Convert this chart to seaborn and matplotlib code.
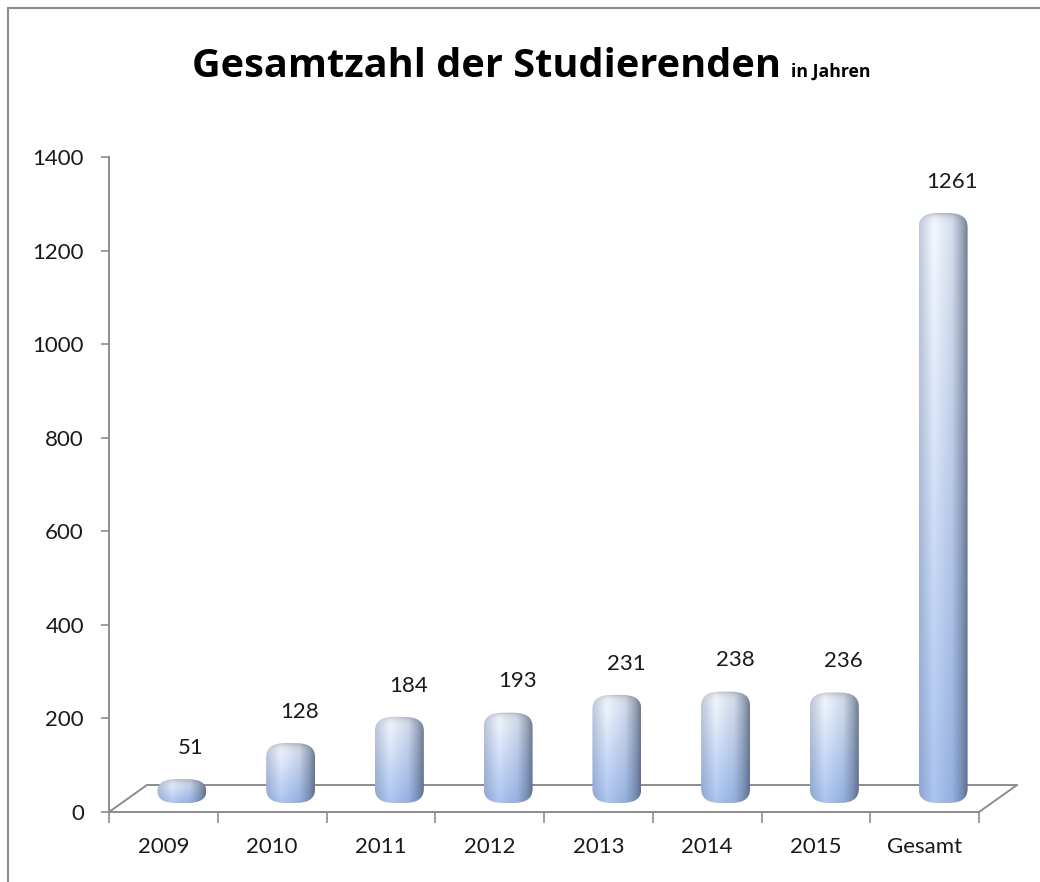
import numpy as np
import pandas as pd
import matplotlib
matplotlib.use("Agg")
import matplotlib.pyplot as plt
import matplotlib.transforms as mtransforms
from matplotlib.patches import FancyBboxPatch
from matplotlib.lines import Line2D
import seaborn as sns

kategorien = ["2009", "2010", "2011", "2012", "2013", "2014", "2015", "Gesamt"]
studierende = [51, 128, 184, 193, 231, 238, 236, 1261]
y_ticks = [0, 200, 400, 600, 800, 1000, 1200, 1400]
titel = "Gesamtzahl der Studierenden"
untertitel = "in Jahren"

sns.set_theme(style="white")
plt.rcParams["font.family"] = ["Lato", "DejaVu Sans"]

GRAU = "#8c8c8c"
W, H = 1040, 882

df = pd.DataFrame({"jahr": kategorien, "anzahl": studierende})

fig = plt.figure(figsize=(W / 100, H / 100), dpi=100)
ax = fig.add_axes([109 / W, 70 / H, 870 / W, 655 / H])

sns.barplot(data=df, x="jahr", y="anzahl", ax=ax, width=0.45, color="#a8c0e8")

# 3D-Versatz der Saeulen (nach rechts / oben)
shift = mtransforms.ScaledTranslation(18.5 / 100, 9 / 100, fig.dpi_scale_trans)
bar_trans = ax.transData + shift


def verlauf(hoehe_px, nx=120):
    ny = max(int(hoehe_px), 10)
    t = np.linspace(0, 1, nx)
    stops = [0.0, 0.30, 0.68, 0.88, 1.0]
    oben = np.array([[0.76, 0.79, 0.86], [0.97, 0.98, 1.00], [0.84, 0.87, 0.92],
                     [0.62, 0.66, 0.73], [0.45, 0.49, 0.56]])
    unten = np.array([[0.55, 0.65, 0.82], [0.67, 0.77, 0.94], [0.58, 0.69, 0.88],
                      [0.46, 0.55, 0.71], [0.36, 0.43, 0.57]])
    top = np.stack([np.interp(t, stops, oben[:, k]) for k in range(3)], axis=-1)
    bot = np.stack([np.interp(t, stops, unten[:, k]) for k in range(3)], axis=-1)
    s = np.linspace(0, 1, ny)[:, None, None]
    img = top[None, :, :] * (1 - s) + bot[None, :, :] * s
    # dunklerer Rand an der gewoelbten Oberseite
    d = np.arange(ny)[:, None, None]
    rand = 1 - 0.22 * np.exp(-d / 3.0)
    return np.clip(img * rand, 0, 1)


px_per_x = 870 / 8
px_per_y = 655 / 1400

for p in list(ax.patches):
    x0, w, h = p.get_x(), p.get_width(), p.get_height()
    p.set_visible(False)
    rx = 19 / px_per_x
    ry = min(14 / px_per_y, h / 2)
    clip = FancyBboxPatch((x0, 0), w, h,
                          boxstyle=f"round,pad=0,rounding_size={rx}",
                          mutation_aspect=ry / rx, transform=bar_trans,
                          facecolor="none", edgecolor="none")
    ax.add_patch(clip)
    im = ax.imshow(verlauf(h * px_per_y), extent=(x0, x0 + w, 0, h), origin="upper",
                   aspect="auto", transform=bar_trans, interpolation="bilinear", zorder=3)
    im.set_clip_path(clip)
    ax.annotate(f"{int(round(h))}", xy=(x0 + w / 2, h), xycoords="data",
                xytext=(20, 29), textcoords="offset points",
                ha="center", va="center", fontsize=16, color="#1a1a1a",
                annotation_clip=False)

ax.set_xlim(-0.5, len(kategorien) - 0.5)
ax.set_ylim(0, 1400)
ax.set_yticks(y_ticks)
ax.set_xlabel("")
ax.set_ylabel("")

# Boden (3D-Flaeche)
bx, by = 38 / 870, 27 / 655
for xs, ys in [([0, bx], [0, by]), ([bx, 1 + bx], [by, by]), ([1, 1 + bx], [0, by])]:
    ax.add_line(Line2D(xs, ys, transform=ax.transAxes, color=GRAU, lw=1.4,
                       clip_on=False, zorder=1))

sns.despine(ax=ax)
for s in ["left", "bottom"]:
    ax.spines[s].set_color(GRAU)
    ax.spines[s].set_linewidth(1.4)

ax.set_xticks(np.arange(-0.5, len(kategorien)), minor=True)
ax.tick_params(axis="x", which="major", length=0, pad=18, labelsize=16, labelcolor="#1a1a1a")
ax.tick_params(axis="x", which="minor", length=8, width=1.2, color=GRAU, direction="out", bottom=True)
ax.tick_params(axis="y", length=6, width=1.2, color=GRAU, direction="out", left=True,
               pad=12, labelsize=16, labelcolor="#1a1a1a")

# Rahmen des Diagramms
fig.add_artist(Line2D([8 / W, 8 / W], [0, 1 - 8 / H], transform=fig.transFigure, color=GRAU, lw=1.5))
fig.add_artist(Line2D([8 / W, 1], [1 - 8 / H, 1 - 8 / H], transform=fig.transFigure, color=GRAU, lw=1.5))

# Titel: Schriftgroesse an die Breite im Original anpassen
t = fig.text(192 / W, 1 - 77 / H, titel, fontsize=28, fontweight="bold", va="baseline",
             color="black", family=["Open Sans", "DejaVu Sans"])
fig.canvas.draw()
bb = t.get_window_extent()
t.set_fontsize(28 * 588 / bb.width)
fig.canvas.draw()
bb = t.get_window_extent()
u = fig.text((bb.x1 + 10) / W, 1 - 77 / H, untertitel, fontsize=11, fontweight="bold",
             va="baseline", color="black", family=["Open Sans", "DejaVu Sans"])
fig.canvas.draw()
ub = u.get_window_extent()
u.set_fontsize(11 * 80 / ub.width)

fig.savefig("out.png", dpi=100)
